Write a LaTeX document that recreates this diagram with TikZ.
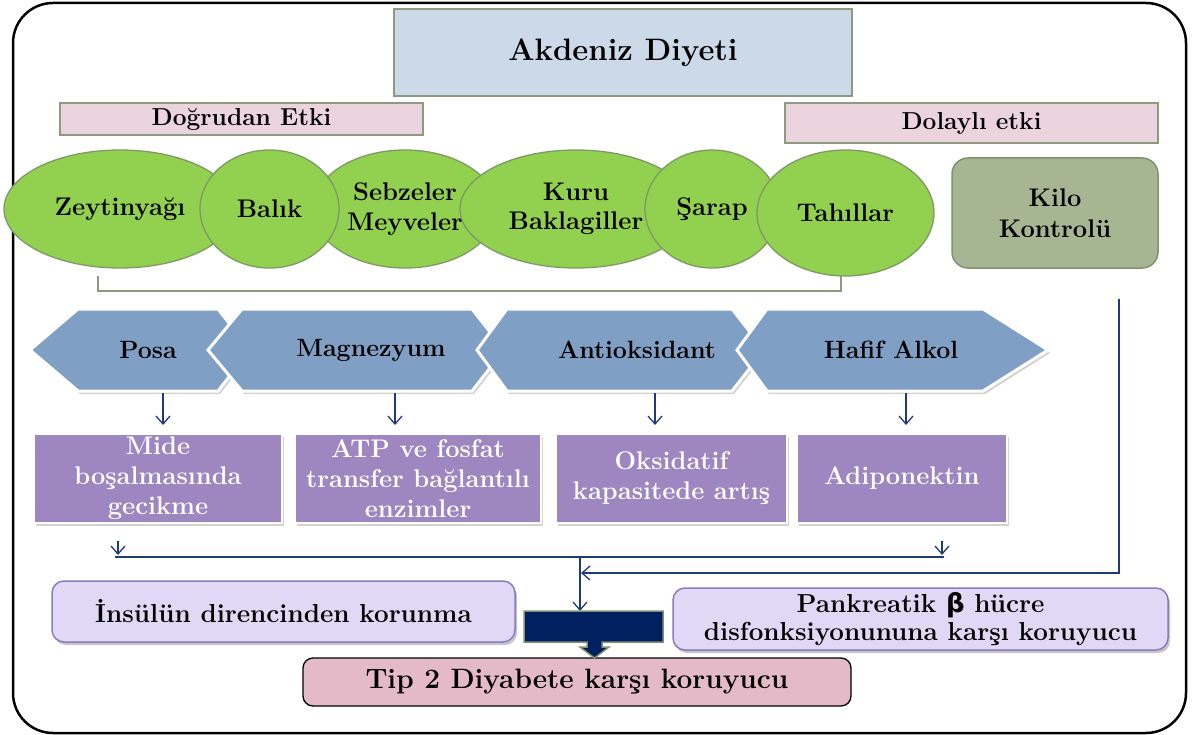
\documentclass[tikz,border=0pt]{standalone}
\usepackage{fontspec}
\newfontfamily\betafont{DejaVu Sans}
\usetikzlibrary{shapes.geometric,shadows,arrows.meta}
\definecolor{titleblue}{HTML}{CCD9E8}
\definecolor{grayborder}{HTML}{8C9A7E}
\definecolor{labelpink}{HTML}{EBD4DE}
\definecolor{leafgreen}{HTML}{92D050}
\definecolor{greenborder}{HTML}{7E9A64}
\definecolor{kilogreen}{HTML}{A6B592}
\definecolor{kiloborder}{HTML}{829270}
\definecolor{hexblue}{HTML}{7F9FC4}
\definecolor{boxpurple}{HTML}{9E86C0}
\definecolor{navyline}{HTML}{1F3A7A}
\definecolor{lavender}{HTML}{E0D8F5}
\definecolor{lavborder}{HTML}{8C7BC0}
\definecolor{tippink}{HTML}{E4BAC8}
\definecolor{darknavy}{HTML}{002060}
\newcommand{\HexPiece}[7]{%
  \path[hexshape] (#1,350) -- (#2,309) -- (#3,309) -- (#4,350) -- (#3,391) -- (#2,391) -- cycle;
  \node[hextext] (#5) at (#6,350) {#7};
}
\begin{document}
\begin{tikzpicture}[x=1pt,y=-1pt,
  every node/.style={inner sep=0pt, outer sep=0pt, align=center},
  ftitle/.style={font=\fontsize{31}{35}\selectfont\bfseries},
  flabel/.style={font=\fontsize{24.5}{29}\selectfont\bfseries},
  fleaf/.style={font=\fontsize{25.5}{29.5}\selectfont\bfseries},
  fhex/.style={font=\fontsize{25}{29}\selectfont\bfseries},
  fbox/.style={font=\fontsize{25.5}{30}\selectfont\bfseries},
  flav/.style={font=\fontsize{26}{30}\selectfont\bfseries},
  ftip/.style={font=\fontsize{28}{32}\selectfont\bfseries},
  titlebox/.style={rectangle, draw=grayborder, line width=1.5pt, fill=titleblue, ftitle},
  labelbox/.style={rectangle, draw=grayborder, line width=1.5pt, fill=labelpink, flabel},
  leaf/.style={ellipse, draw=greenborder, line width=1.3pt, fill=leafgreen, fleaf},
  kilobox/.style={rectangle, rounded corners=16pt, draw=kiloborder, line width=1.5pt, fill=kilogreen, fleaf, text width=190pt},
  hexshape/.style={fill=hexblue, draw=white, line width=3pt, drop shadow={opacity=0.35, shadow xshift=2pt, shadow yshift=-3pt}},
  hextext/.style={fhex},
  pbox/.style={rectangle, fill=boxpurple, draw=white, line width=2.5pt, text=white, fbox, drop shadow={opacity=0.35, shadow xshift=2pt, shadow yshift=-3pt}},
  lavbox/.style={rectangle, rounded corners=12pt, fill=lavender, draw=lavborder, line width=1.5pt, flav, drop shadow={opacity=0.45, shadow xshift=2pt, shadow yshift=-3pt}},
  tipbox/.style={rectangle, rounded corners=10pt, fill=tippink, draw=black, line width=1.3pt, ftip},
  navyarrow/.style={draw=navyline, line width=1.3pt, -{Straight Barb[length=8pt, width=14pt]}},
  navyplain/.style={draw=navyline, line width=1.3pt},
  bracketline/.style={draw=grayborder, line width=1.5pt},
  callout/.style={fill=darknavy, draw=kiloborder, line width=1.5pt}
]
\useasboundingbox (0,0) rectangle (1198,735);
% outer frame
\draw[line width=2.5pt, rounded corners=40pt] (13,3) rectangle (1186,733);

% title and labels
\node[titlebox, minimum width=458pt, minimum height=87pt] (title) at (623,52.5) {Akdeniz Diyeti};
\node[labelbox, minimum width=363pt, minimum height=32pt] (direct) at (241.5,119) {Doğrudan Etki};
\node[labelbox, minimum width=373pt, minimum height=40pt] (indirect) at (971.5,123) {Dolaylı etki};

% foods
\node[leaf, minimum width=232pt, minimum height=118pt] (zey) at (120,209) {Zeytinyağı};
\node[leaf, minimum width=184pt, minimum height=118pt] (sebz) at (405,209) {Sebzeler\\Meyveler};
\node[leaf, minimum width=139pt, minimum height=118pt] (balik) at (269.5,209) {Balık};
\node[leaf, minimum width=232pt, minimum height=118pt] (kuru) at (576,209) {Kuru\\Baklagiller};
\node[leaf, minimum width=134pt, minimum height=118pt] (sarap) at (712,209) {Şarap};
\node[leaf, minimum width=177pt, minimum height=126pt] (tahil) at (845.5,213) {Tahıllar};
\node[kilobox, minimum width=206pt, minimum height=110pt] (kilo) at (1055,213) {Kilo\\[1pt]Kontrolü};

% bracket under the foods
\coordinate (brL) at (98,276);
\coordinate (brR) at (841,276);
\draw[bracketline] (brL) -- ++(0,15) -| (brR);

% nutrients
\HexPiece{30}{78}{218}{250}{posa}{148}{Posa}
\HexPiece{208}{242}{472}{504}{magn}{371}{Magnezyum}
\HexPiece{477}{507}{732}{764}{anti}{637}{Antioksidant}
\HexPiece{737}{767}{983}{1048}{hafif}{891}{Hafif Alkol}

% effects
\node[pbox, minimum width=248pt, minimum height=89pt] (mide) at (158,478.5) {Mide\\boşalmasında\\gecikme};
\node[pbox, minimum width=246pt, minimum height=89pt] (atp) at (418,478.5) {ATP ve fosfat\\transfer bağlantılı\\enzimler};
\node[pbox, minimum width=231pt, minimum height=89pt] (oks) at (671.5,478.5) {Oksidatif\\kapasitede artış};
\node[pbox, minimum width=210pt, minimum height=89pt] (adip) at (902,478.5) {Adiponektin};

% arrows from nutrients to effects
\coordinate (pa) at (163,393); \coordinate (pb) at (163,425);
\coordinate (ma) at (395,393); \coordinate (mb) at (395,425);
\coordinate (aa) at (655,393); \coordinate (ab) at (655,425);
\coordinate (ha) at (906,393); \coordinate (hb) at (906,425);
\draw[navyarrow] (pa) -- (pb);
\draw[navyarrow] (ma) -- (mb);
\draw[navyarrow] (aa) -- (ab);
\draw[navyarrow] (ha) -- (hb);

% collecting lines
\coordinate (s1a) at (118,541); \coordinate (s1b) at (118,555);
\coordinate (s2a) at (942,541); \coordinate (s2b) at (942,555);
\draw[navyarrow] (s1a) -- (s1b);
\draw[navyarrow] (s2a) -- (s2b);
\coordinate (hL) at (115,557); \coordinate (hR) at (944,557);
\draw[navyplain] (hL) -- (hR);
\coordinate (hM) at (580,557); \coordinate (dkTop) at (580,611);
\draw[navyarrow] (hM) -- (dkTop);
\coordinate (kS) at (1119,299); \coordinate (kC) at (1119,573); \coordinate (kE) at (581,573);
\draw[navyarrow] (kS) -- (kC) -- (kE);

% outcomes
\node[lavbox, minimum width=463pt, minimum height=61pt] (insulin) at (283.5,611.5) {İnsülün direncinden korunma};
\node[lavbox, minimum width=495pt, minimum height=62pt] (pankreas) at (920.5,619) {Pankreatik {\betafont\bfseries β} hücre\\[-2pt]disfonksiyonununa karşı koruyucu};
\node[tipbox, minimum width=548pt, minimum height=48pt] (tip) at (577,682) {Tip 2 Diyabete karşı koruyucu};

% dark down-arrow callout
\path[callout] (524,611) -- (663,611) -- (663,642) -- (602,642) -- (602,647) -- (609,647) -- (594.5,658) -- (580,647) -- (587,647) -- (587,642) -- (524,642) -- cycle;
\end{tikzpicture}
\end{document}
